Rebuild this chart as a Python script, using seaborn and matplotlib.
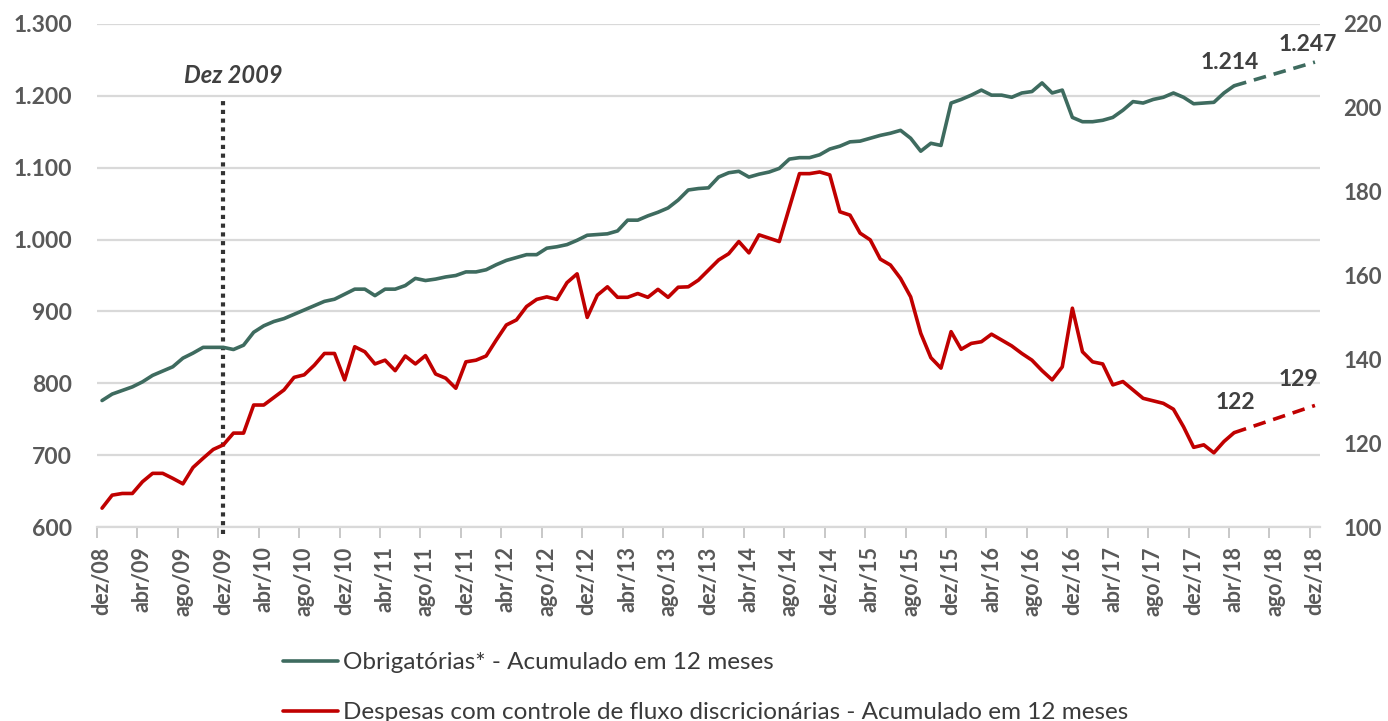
import numpy as np
import pandas as pd
import matplotlib
matplotlib.use("Agg")
from matplotlib import pyplot as plt
from matplotlib.lines import Line2D
import seaborn as sns

# monthly values, dez/08 .. abr/18
obrigatorias = [776, 785, 790, 795, 802, 811, 817, 823, 835, 842,
                850, 850, 850, 847, 853, 871, 880, 886, 890, 896,
                902, 908, 914, 917, 924, 931, 931, 922, 931, 931,
                936, 946, 943, 945, 948, 950, 955, 955, 958, 965,
                971, 975, 979, 979, 988, 990, 993, 999, 1006, 1007,
                1008, 1012, 1027, 1027, 1033, 1038, 1044, 1055, 1069, 1071,
                1072, 1087, 1093, 1095, 1087, 1091, 1094, 1099, 1112, 1114,
                1114, 1118, 1126, 1130, 1136, 1137, 1141, 1145, 1148, 1152,
                1141, 1123, 1134, 1131, 1190, 1195, 1201, 1208, 1201, 1201,
                1198, 1204, 1206, 1218, 1204, 1208, 1170, 1164, 1164, 1166,
                1170, 1180, 1192, 1190, 1195, 1198, 1204, 1198, 1189, 1190,
                1191, 1204, 1214]

discricionarias = [104.5, 107.6, 108.0, 108.0, 110.8, 112.8, 112.8, 111.6, 110.3, 114.2,
                   116.4, 118.5, 119.6, 122.4, 122.4, 129.1, 129.1, 130.9, 132.7, 135.7,
                   136.3, 138.6, 141.4, 141.4, 135.1, 143.0, 141.8, 138.9, 139.8, 137.3,
                   140.8, 138.9, 140.9, 136.5, 135.5, 133.1, 139.4, 139.8, 140.8, 144.6,
                   148.2, 149.4, 152.6, 154.3, 154.9, 154.3, 158.3, 160.4, 150.0, 155.3,
                   157.3, 154.8, 154.8, 155.7, 154.8, 156.7, 154.8, 157.2, 157.3, 158.9,
                   161.3, 163.7, 165.2, 168.1, 165.4, 169.7, 168.9, 168.1, 176.2, 184.3,
                   184.3, 184.7, 184.0, 175.2, 174.4, 170.1, 168.5, 163.9, 162.5, 159.3,
                   154.9, 146.2, 140.4, 137.9, 146.6, 142.4, 143.8, 144.2, 146.0, 144.6,
                   143.2, 141.4, 139.8, 137.3, 135.1, 138.2, 152.2, 141.8, 139.4, 138.9,
                   133.9, 134.7, 132.7, 130.7, 130.1, 129.5, 128.1, 123.9, 119.0, 119.6,
                   117.7, 120.4, 122.5]

# projection abr/18 -> dez/18
proj_month = [112, 120]
proj_obrigatorias = [1214, 1247]
proj_discricionarias = [122.5, 129]
proj_labels_obr = ["1.214", "1.247"]
proj_labels_disc = ["122", "129"]

tick_labels = ["dez/08", "abr/09", "ago/09", "dez/09", "abr/10", "ago/10", "dez/10",
               "abr/11", "ago/11", "dez/11", "abr/12", "ago/12", "dez/12", "abr/13",
               "ago/13", "dez/13", "abr/14", "ago/14", "dez/14", "abr/15", "ago/15",
               "dez/15", "abr/16", "ago/16", "dez/16", "abr/17", "ago/17", "dez/17",
               "abr/18", "ago/18", "dez/18"]
left_ticks = [600, 700, 800, 900, 1000, 1100, 1200, 1300]
left_ticklabels = ["600", "700", "800", "900", "1.000", "1.100", "1.200", "1.300"]
right_ticks = [100, 120, 140, 160, 180, 200, 220]
marker_month = 12  # Dez 2009

labels = ["Obrigatórias* - Acumulado em 12 meses",
          "Despesas com controle de fluxo discricionárias - Acumulado em 12 meses"]

GREEN = "#3E6B5F"
RED = "#C00000"
GRAY = "#595959"
DARK = "#404040"

sns.set_style("white")
plt.rcParams['font.family'] = ['Lato', 'DejaVu Sans']

df = pd.DataFrame({"mes": np.arange(len(obrigatorias)),
                   "obrig": obrigatorias, "disc": discricionarias})
proj = pd.DataFrame({"mes": proj_month, "obrig": proj_obrigatorias,
                     "disc": proj_discricionarias})

fig = plt.figure(figsize=(13.88, 7.21), dpi=100)
ax = fig.add_axes([97 / 1388, 1 - 527 / 721, 1223 / 1388, 503 / 721])
ax2 = ax.twinx()

sns.lineplot(x="mes", y="obrig", data=df, ax=ax, color=GREEN, linewidth=2.6)
sns.lineplot(x="mes", y="obrig", data=proj, ax=ax, color=GREEN, linewidth=2.6,
             linestyle=(0, (3.5, 2.2)))
sns.lineplot(x="mes", y="disc", data=df, ax=ax2, color=RED, linewidth=2.6)
sns.lineplot(x="mes", y="disc", data=proj, ax=ax2, color=RED, linewidth=2.6,
             linestyle=(0, (3.5, 2.2)))

ax.vlines(marker_month, 590, 1195, colors="#333333", linewidth=3,
          linestyles=(0, (1, 1.1)), zorder=1, clip_on=False)
ax.text(marker_month + 1.0, 1229, "Dez 2009", ha="center", va="center",
        fontsize=17, fontweight="bold", fontstyle="italic", color=DARK)

ax.set_xlim(-0.5, 120.5)
ax.set_ylim(600, 1300)
ax2.set_ylim(100, 220)

ax.set_yticks(left_ticks)
ax.set_yticklabels(left_ticklabels)
ax2.set_yticks(right_ticks)
ax.yaxis.grid(True, color="#D9D9D9", linewidth=1.6)
ax.set_axisbelow(True)

ax.set_xticks(np.arange(0, 121, 4))
ax.set_xticklabels(tick_labels, rotation=90)
ax.set_xticks(np.arange(-0.5, 120, 4), minor=True)
ax.tick_params(axis="x", which="major", length=0, pad=14, labelsize=15.5,
               labelcolor=GRAY)
ax.tick_params(axis="x", which="minor", length=8, width=1.2, color="#BFBFBF",
               direction="out", bottom=True)
ax.tick_params(axis="y", length=0, pad=18, labelsize=16.5, labelcolor=GRAY)
ax2.tick_params(axis="y", length=0, pad=17, labelsize=16, labelcolor=GRAY)
for t in ax.get_xticklabels() + ax.get_yticklabels() + ax2.get_yticklabels():
    t.set_fontweight("bold")

for a in (ax, ax2):
    for s in a.spines.values():
        s.set_visible(False)
    a.set_xlabel("")
    a.set_ylabel("")
ax.spines["bottom"].set_visible(True)
ax.spines["bottom"].set_color("#D9D9D9")
ax.spines["bottom"].set_linewidth(1.6)

# value labels
ax.text(111.6, 1247, proj_labels_obr[0], ha="center", va="center",
        fontsize=16.5, fontweight="bold", color=DARK)
ax.text(119.3, 1272, proj_labels_obr[1], ha="center", va="center",
        fontsize=16.5, fontweight="bold", color=DARK)
ax2.text(112.1, 129.6, proj_labels_disc[0], ha="center", va="center",
         fontsize=16.5, fontweight="bold", color=DARK)
ax2.text(118.4, 135.3, proj_labels_disc[1], ha="center", va="center",
         fontsize=16.5, fontweight="bold", color=DARK)

handles = [Line2D([], [], color=GREEN, linewidth=2.6),
           Line2D([], [], color=RED, linewidth=2.6)]
fig.legend(handles, labels, loc="upper left", bbox_to_anchor=(283 / 1388, 1 - 652 / 721),
           frameon=False, fontsize=17.5, handlelength=2.25, handletextpad=0.2,
           labelspacing=1.2, borderpad=0, borderaxespad=0, labelcolor="#3A3A3A")

fig.savefig("out.png", dpi=100)
